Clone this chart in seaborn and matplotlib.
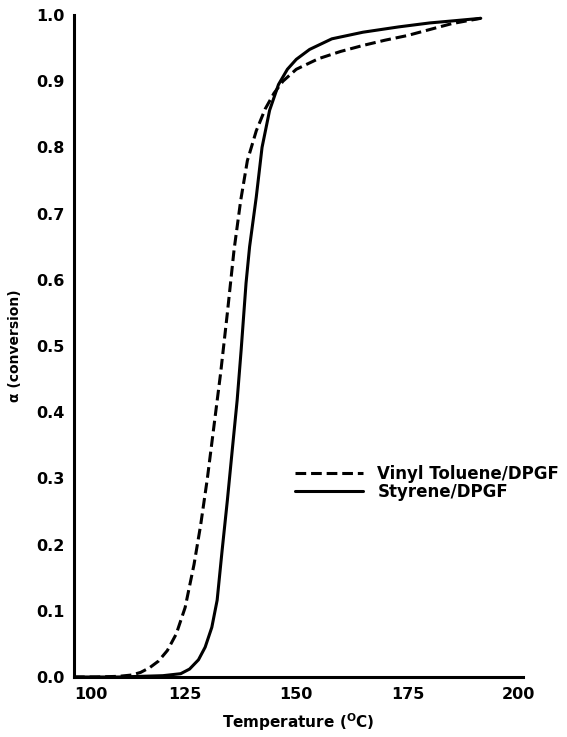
import matplotlib
matplotlib.use("Agg")
import matplotlib.pyplot as plt
import seaborn as sns
import pandas as pd

vinyl_x = [100, 105, 110, 113, 115, 117, 119, 121, 123, 125, 127, 128.5, 130, 131.5, 133,
           134.5, 136, 137.5, 139, 141, 143, 145, 147, 150, 155, 160, 165, 170, 175, 180, 185, 191.5]
vinyl_y = [0, 0, 0.001, 0.003, 0.007, 0.014, 0.024, 0.04, 0.065, 0.105, 0.17, 0.23, 0.30, 0.38, 0.46,
           0.55, 0.645, 0.72, 0.78, 0.825, 0.858, 0.882, 0.90, 0.918, 0.934, 0.945, 0.954, 0.962, 0.969,
           0.978, 0.987, 0.995]

styrene_x = [100, 110, 120, 124, 126, 128, 129.5, 131, 132.2, 133.3, 134.5, 135.6, 136.7, 137.6,
             138.7, 139.5, 141, 142.3, 144, 146, 148, 150, 153, 158, 165, 173, 180, 185, 191.5]
styrene_y = [0, 0, 0.002, 0.005, 0.012, 0.026, 0.045, 0.075, 0.116, 0.19, 0.267, 0.343, 0.418, 0.494,
             0.595, 0.65, 0.725, 0.80, 0.856, 0.895, 0.918, 0.933, 0.948, 0.964, 0.974, 0.982, 0.988,
             0.991, 0.995]

series_names = ["Vinyl Toluene/DPGF", "Styrene/DPGF"]
x_ticks = [100, 125, 150, 175, 200]
y_ticks = [0.0, 0.1, 0.2, 0.3, 0.4, 0.5, 0.6, 0.7, 0.8, 0.9, 1.0]

df = pd.concat([
    pd.DataFrame({"T": vinyl_x, "a": vinyl_y, "series": series_names[0]}),
    pd.DataFrame({"T": styrene_x, "a": styrene_y, "series": series_names[1]}),
])

sns.set_style("white")
plt.rcParams['font.family'] = ['DejaVu Sans']
plt.rcParams['font.weight'] = 'bold'
plt.rcParams['mathtext.default'] = 'bf'
for k in ['text.color', 'axes.labelcolor', 'xtick.color', 'ytick.color', 'axes.edgecolor']:
    plt.rcParams[k] = 'black'

fig = plt.figure(figsize=(5.67, 7.37), dpi=100)
L, R, T, B = 74, 523, 15, 677
ax = fig.add_axes([L/567, 1-B/737, (R-L)/567, (B-T)/737])

sns.lineplot(data=df, x="T", y="a", style="series", color="black", linewidth=2.2,
             dashes={series_names[0]: (3.5, 1.6), series_names[1]: ""},
             style_order=series_names, sort=False, estimator=None, ax=ax)

ax.set_xlim(100, 201)
ax.set_ylim(0, 1.0)
ax.set_xticks(x_ticks)
ax.set_yticks(y_ticks)
ax.set_xticklabels([str(v) for v in x_ticks], fontsize=11.5, fontweight='bold', color='black')
ax.set_yticklabels([f"{v:.1f}" for v in y_ticks], fontsize=11.5, fontweight='bold', color='black')
ax.get_xticklabels()[0].set_horizontalalignment('left')
for s in ["top", "right"]:
    ax.spines[s].set_visible(False)
for s in ["left", "bottom"]:
    ax.spines[s].set_linewidth(2.2)
    ax.spines[s].set_color("black")
ax.tick_params(axis='both', direction='in', length=10, width=2, colors='black')
ax.tick_params(axis='y', pad=7)
ax.tick_params(axis='x', pad=7.5)

ax.set_xlabel("Temperature ($^{\\mathrm{O}}$C)", fontsize=11, fontweight='bold', color='black')
ax.xaxis.set_label_coords(0.5, (B-711)/(B-T))
ax.set_ylabel("α (conversion)", fontsize=10, fontweight='bold', color='black')
ax.yaxis.set_label_coords((22-L)/(R-L), 0.5)

leg = ax.legend(loc='upper left', bbox_to_anchor=((295-L)/(R-L), (B-465)/(B-T)), frameon=False,
                fontsize=12, handlelength=4.1, handletextpad=0.84, labelspacing=0.0,
                borderpad=0, borderaxespad=0)
for t in leg.get_texts():
    t.set_fontweight('bold')
    t.set_color('black')
for h in leg.get_lines():
    h.set_linewidth(2.2)

fig.savefig("out.png", dpi=100)
